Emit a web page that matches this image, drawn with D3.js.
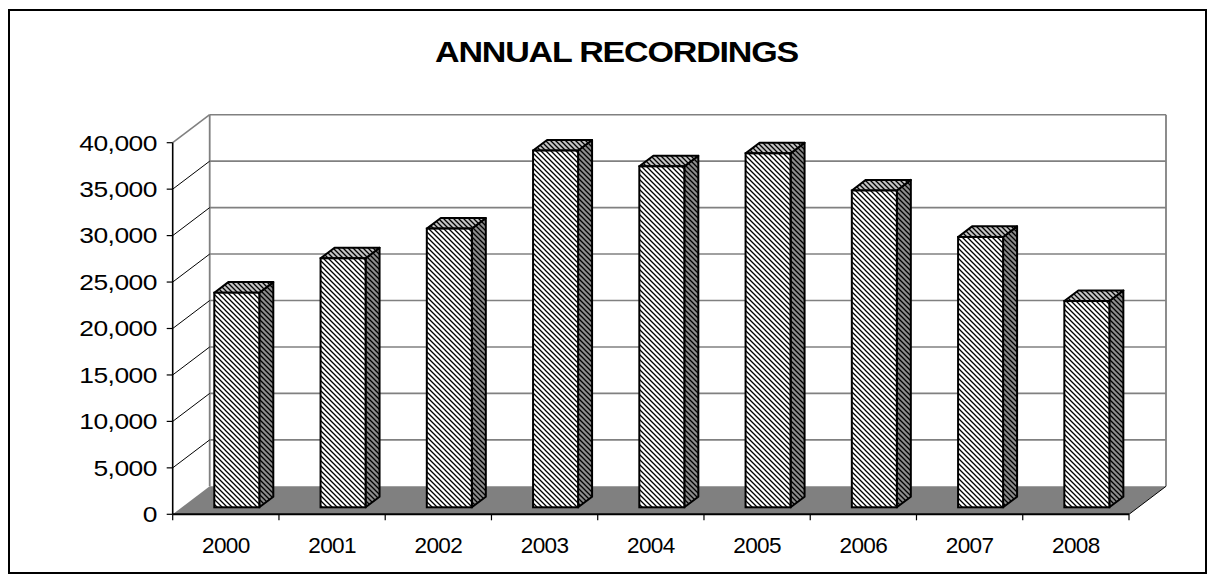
<!DOCTYPE html>
<html>
<head>
<meta charset="utf-8">
<script src="https://cdn.jsdelivr.net/npm/d3@7"></script>
<style>
  html, body { margin: 0; padding: 0; background: #fff; }
  svg { display: block; }
  text { font-family: "Liberation Sans", Arial, sans-serif; fill: #000; }
</style>
</head>
<body>
<svg id="chart" width="1215" height="581"></svg>
<script>
const years = ["2000","2001","2002","2003","2004","2005","2006","2007","2008"];
const recordings = [23100, 26800, 30000, 38400, 36700, 38100, 34100, 29100, 22200];
const yTickValues = [0, 5000, 10000, 15000, 20000, 25000, 30000, 35000, 40000];
const chartTitle = "ANNUAL RECORDINGS";

const svg = d3.select("#chart");
const defs = svg.append("defs");

function hatch(id, bg) {
  const p = defs.append("pattern").attr("id", id)
    .attr("patternUnits", "userSpaceOnUse").attr("width", 5).attr("height", 5);
  p.append("rect").attr("width", 5).attr("height", 5).attr("fill", bg);
  p.append("path").attr("d", "M0,0 L5,5 M-1,4 L1,6 M4,-1 L6,1")
    .attr("stroke", "#000").attr("stroke-width", 1.3);
}
hatch("hFront", "#ffffff");
hatch("hSide", "#8c8c8c");
hatch("hTop", "#c4c4c4");

// outer frame
svg.append("rect").attr("x", 9).attr("y", 10).attr("width", 1197).attr("height", 563)
  .attr("fill", "#fff").attr("stroke", "#000").attr("stroke-width", 2);

// title
svg.append("text").attr("x", 616.5).attr("y", 62)
  .attr("text-anchor", "middle").attr("font-size", 29).attr("font-weight", "bold")
  .attr("letter-spacing", -1)
  .attr("textLength", 363).attr("lengthAdjust", "spacingAndGlyphs")
  .text(chartTitle);

// scales
const x = d3.scaleBand().domain(years).range([172.7, 1129]).padding(0);
const yFront = d3.scaleLinear().domain([0, 40000]).range([514.3, 142.7]);
const DX = 37, DY = -28;          // wall depth offset
const FX = 9.25, FY = -7;         // bar front plane offset
const BDX = 14, BDY = -10.6;      // bar depth
const BAR_OFF = 41.6, BAR_W = 45;
const yBack = v => yFront(v) + DY;
const yBar = v => yFront(v) + FY;

const x0 = x.range()[0], x1 = x.range()[1];

// back wall
svg.append("rect").attr("x", x0 + DX).attr("y", yBack(40000))
  .attr("width", x1 - x0).attr("height", yBack(0) - yBack(40000)).attr("fill", "#fff");

// gridlines on back wall
svg.append("g").selectAll("line").data(yTickValues.filter(v => v > 0)).join("line")
  .attr("x1", x0 + DX).attr("x2", x1 + DX)
  .attr("y1", d => yBack(d)).attr("y2", d => yBack(d))
  .attr("stroke", "#808080").attr("stroke-width", 1.6);

// wall verticals
[x0 + DX, x1 + DX].forEach(xx => {
  svg.append("line").attr("x1", xx).attr("x2", xx)
    .attr("y1", yBack(40000)).attr("y2", yBack(0))
    .attr("stroke", "#808080").attr("stroke-width", 1.8);
});

// side diagonals
svg.append("g").selectAll("line").data(yTickValues.filter(v => v > 0)).join("line")
  .attr("x1", x0).attr("x2", x0 + DX)
  .attr("y1", d => yFront(d)).attr("y2", d => yBack(d))
  .attr("stroke", d => d === 40000 ? "#808080" : "#000")
  .attr("stroke-width", d => d === 40000 ? 1.6 : 1);

// floor
svg.append("path")
  .attr("d", `M${x0},${yFront(0)} L${x1},${yFront(0)} L${x1 + DX},${yBack(0)} L${x0 + DX},${yBack(0)} Z`)
  .attr("fill", "#808080");
svg.append("line").attr("x1", x1).attr("y1", yFront(0)).attr("x2", x1 + DX).attr("y2", yBack(0))
  .attr("stroke", "#000").attr("stroke-width", 1);

// bars
const bars = svg.append("g").selectAll("g").data(years.map((y, i) => ({ year: y, v: recordings[i] }))).join("g");
bars.each(function (d) {
  const g = d3.select(this);
  const L = x(d.year) + BAR_OFF, R = L + BAR_W;
  const T = yBar(d.v), B = yBar(0);
  g.append("path").attr("d", `M${R},${T} L${R + BDX},${T + BDY} L${R + BDX},${B + BDY} L${R},${B} Z`)
    .attr("fill", "url(#hSide)").attr("stroke", "#000").attr("stroke-width", 2).attr("stroke-linejoin", "round");
  g.append("path").attr("d", `M${L},${T} L${L + BDX},${T + BDY} L${R + BDX},${T + BDY} L${R},${T} Z`)
    .attr("fill", "url(#hTop)").attr("stroke", "#000").attr("stroke-width", 2).attr("stroke-linejoin", "round");
  g.append("rect").attr("x", L).attr("y", T).attr("width", BAR_W).attr("height", B - T)
    .attr("fill", "url(#hFront)").attr("stroke", "#000").attr("stroke-width", 2);
});

// y axis
svg.append("line").attr("x1", x0).attr("x2", x0).attr("y1", yFront(40000)).attr("y2", yFront(0))
  .attr("stroke", "#000").attr("stroke-width", 1.6);
svg.append("g").selectAll("line").data(yTickValues).join("line")
  .attr("x1", x0 - 6).attr("x2", x0).attr("y1", d => yFront(d)).attr("y2", d => yFront(d))
  .attr("stroke", "#000").attr("stroke-width", 1.2);
const fmt = d3.format(",");
svg.append("g").selectAll("text").data(yTickValues).join("text")
  .attr("transform", d => `translate(157,${yFront(d) + 7.8}) scale(1.2,1)`)
  .attr("text-anchor", "end").attr("font-size", 22).attr("letter-spacing", -0.4)
  .text(d => fmt(d));

// x axis
svg.append("line").attr("x1", x0).attr("x2", x1).attr("y1", yFront(0)).attr("y2", yFront(0))
  .attr("stroke", "#000").attr("stroke-width", 2);
const xTicks = years.map(y => x(y)).concat([x1]);
svg.append("g").selectAll("line").data(xTicks).join("line")
  .attr("x1", d => d).attr("x2", d => d).attr("y1", yFront(0)).attr("y2", yFront(0) + 6)
  .attr("stroke", "#000").attr("stroke-width", 1.2);
svg.append("g").selectAll("text").data(years).join("text")
  .attr("transform", d => `translate(${x(d) + x.bandwidth() / 2},553) scale(1.05,1)`)
  .attr("text-anchor", "middle").attr("font-size", 21.5).attr("letter-spacing", -0.6)
  .text(d => d);
</script>
</body>
</html>
